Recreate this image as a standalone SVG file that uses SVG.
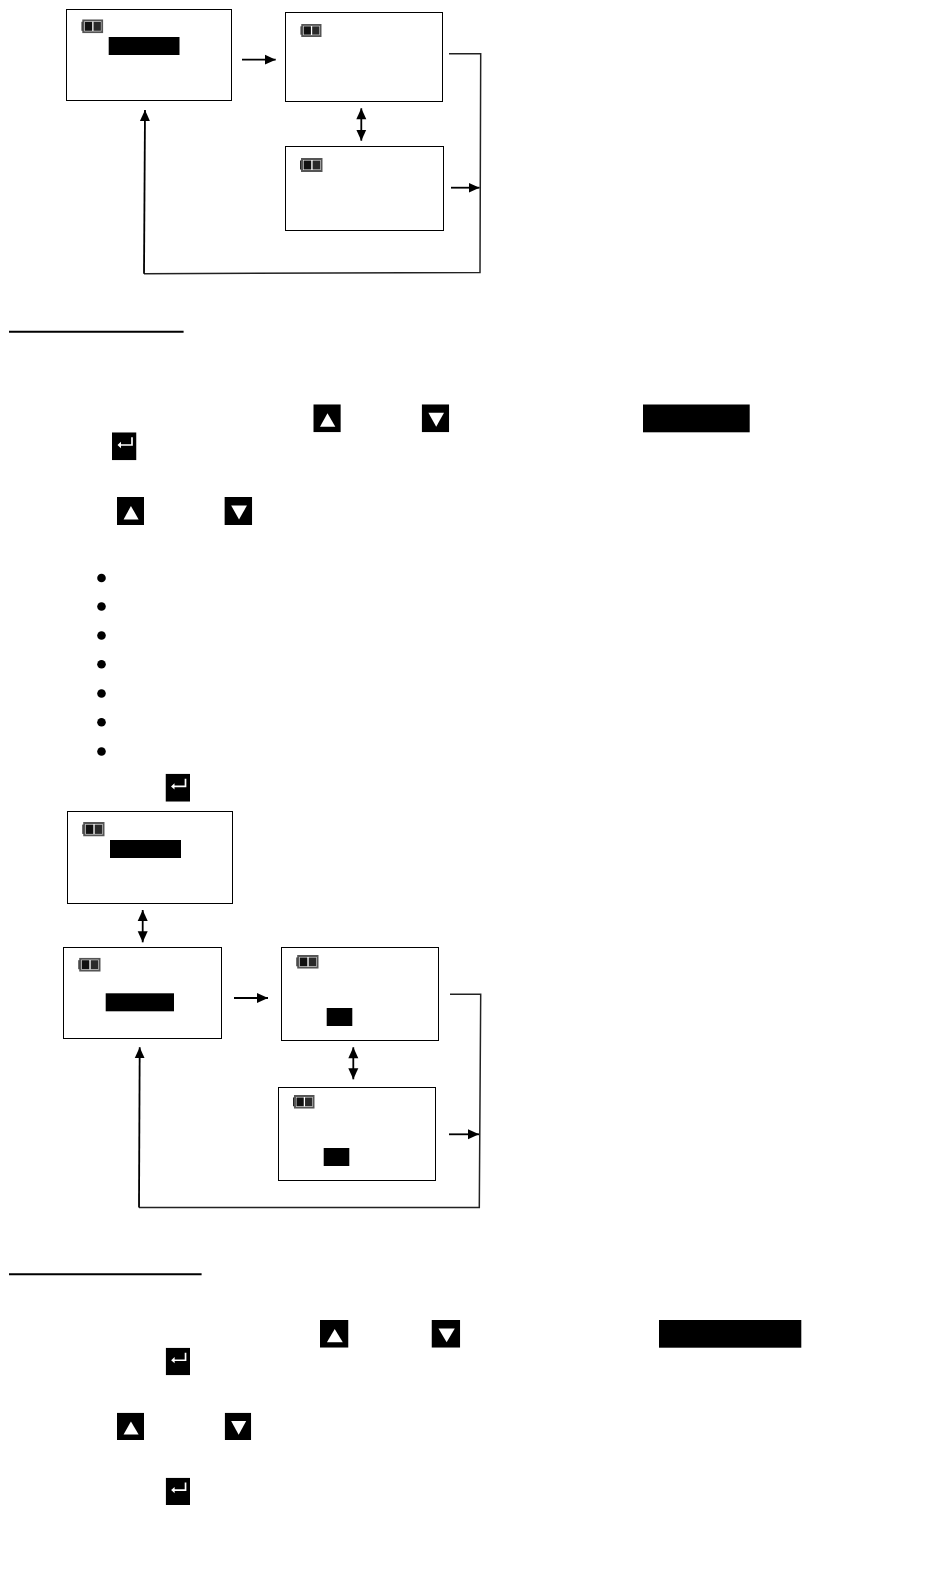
<svg xmlns="http://www.w3.org/2000/svg" xmlns:xlink="http://www.w3.org/1999/xlink" width="950" height="1590" viewBox="0 0 950 1590">
<style>
.screen{fill:#fff;stroke:#000;stroke-width:1}
.hl{fill:#000}
.rule{fill:none;stroke:#000;stroke-width:2}
.wire{fill:none;stroke:#222;stroke-width:1.5}
.arrow{fill:none;stroke:#000;stroke-width:1.8;marker-end:url(#ah)}
.both{fill:none;stroke:#000;stroke-width:1.8;marker-start:url(#ahs);marker-end:url(#ah)}
.bullet{fill:#000}
</style>
<defs>
<marker id="ah" markerUnits="userSpaceOnUse" markerWidth="12" markerHeight="11" refX="11" refY="5.5" orient="auto"><path d="M0,0.5L11,5.5L0,10.5Z" fill="#000"/></marker>
<marker id="ahs" markerUnits="userSpaceOnUse" markerWidth="12" markerHeight="11" refX="0" refY="5.5" orient="auto"><path d="M11,0.5L0,5.5L11,10.5Z" fill="#000"/></marker>
<symbol id="battery" viewBox="0 0 22 14" preserveAspectRatio="none">
<rect x="0" y="2.5" width="3" height="9" fill="#222"/>
<rect x="2" y="1" width="19" height="12" fill="#fff" stroke="#555" stroke-width="2"/>
<rect x="3.5" y="2.5" width="7.4" height="9" fill="#111"/>
<rect x="12.2" y="2.5" width="7.4" height="9" fill="#2a2a2a"/>
</symbol>
<symbol id="keyup" viewBox="0 0 27.5 28" preserveAspectRatio="none">
<rect width="27.5" height="28" fill="#000"/>
<path d="M14.2,9L22,22.4H6.7Z" fill="#fff"/>
</symbol>
<symbol id="keydown" viewBox="0 0 27.5 28" preserveAspectRatio="none">
<rect width="27.5" height="28" fill="#000"/>
<path d="M6.7,8.5H22.3L14.5,22.5Z" fill="#fff"/>
</symbol>
<symbol id="keyenter" viewBox="0 0 24.5 28" preserveAspectRatio="none">
<rect width="24.5" height="28" fill="#000"/>
<path d="M20,5V12.7H8" fill="none" stroke="#fff" stroke-width="1.7"/>
<path d="M5.5,12.7L9,9.5V15.9Z" fill="#fff"/>
</symbol>
</defs>
<rect width="950" height="1590" fill="#fff"/>

<g id="connectors">
<path class="arrow" d="M242,59.7H275.7"/>
<path class="both" d="M361.3,108.3V140.7"/>
<path class="wire" d="M449,53.7H480.7L480,272.5L144,273.7"/>
<path class="arrow" d="M144,273.7L145,110"/>
<path class="arrow" d="M451,187.7H479.5"/>
<path class="both" d="M142.7,910V942.3"/>
<path class="arrow" d="M234,998H268"/>
<path class="both" d="M353.3,1047.3V1079.3"/>
<path class="wire" d="M450,994.3H480.7L479.3,1207.5H139"/>
<path class="arrow" d="M139,1207.5L139.7,1047.3"/>
<path class="arrow" d="M449,1134.3H479"/>
</g>

<g id="screen-1"><rect class="screen" x="66.5" y="9.5" width="165" height="91"/><use xlink:href="#battery" x="81.3" y="19.3" width="22" height="14"/><rect class="hl" x="108.7" y="37" width="70.8" height="18"/></g>
<g id="screen-2"><rect class="screen" x="285.5" y="12.5" width="157" height="89"/><use xlink:href="#battery" x="300.3" y="24" width="21.4" height="13"/></g>
<g id="screen-3"><rect class="screen" x="285.5" y="146.5" width="158" height="84"/><use xlink:href="#battery" x="300" y="158" width="22.7" height="14"/></g>

<g id="section-1">
<path class="rule" d="M9,331.7H183.6"/>
<use xlink:href="#keyup" x="313.3" y="404.3" width="27.5" height="28"/>
<use xlink:href="#keydown" x="421.7" y="404.3" width="27.5" height="28"/>
<rect class="hl" x="643" y="404.5" width="106.7" height="27.8"/>
<use xlink:href="#keyenter" x="112" y="432.3" width="24.5" height="28"/>
<use xlink:href="#keyup" x="117" y="497" width="27" height="28"/>
<use xlink:href="#keydown" x="224.4" y="497" width="27.8" height="28"/>
<circle class="bullet" cx="101.5" cy="578" r="4.3"/>
<circle class="bullet" cx="101.5" cy="606.5" r="4.3"/>
<circle class="bullet" cx="101.5" cy="635.5" r="4.3"/>
<circle class="bullet" cx="101.5" cy="664.3" r="4.3"/>
<circle class="bullet" cx="101.5" cy="693.5" r="4.3"/>
<circle class="bullet" cx="101.5" cy="722.3" r="4.3"/>
<circle class="bullet" cx="101.5" cy="751.5" r="4.3"/>
<use xlink:href="#keyenter" x="165.5" y="773.7" width="24.5" height="28"/>
</g>

<g id="screen-4"><rect class="screen" x="67.5" y="811.5" width="165" height="92"/><use xlink:href="#battery" x="82.2" y="822" width="22.5" height="14.5"/><rect class="hl" x="110" y="840" width="71" height="18"/></g>
<g id="screen-5"><rect class="screen" x="63.5" y="947.5" width="158" height="91"/><use xlink:href="#battery" x="78.2" y="957.7" width="22.5" height="14"/><rect class="hl" x="105.7" y="993.3" width="68.3" height="18"/></g>
<g id="screen-6"><rect class="screen" x="281.5" y="947.5" width="157" height="93"/><use xlink:href="#battery" x="296.2" y="955" width="22.5" height="13.7"/><rect class="hl" x="326.7" y="1008" width="25.6" height="18"/></g>
<g id="screen-7"><rect class="screen" x="278.5" y="1087.5" width="157" height="93"/><use xlink:href="#battery" x="293" y="1095" width="21.7" height="13.7"/><rect class="hl" x="323.7" y="1148" width="25.6" height="18"/></g>

<g id="section-2">
<path class="rule" d="M9,1274.3H201.6"/>
<use xlink:href="#keyup" x="320" y="1320" width="28.5" height="27.7"/>
<use xlink:href="#keydown" x="431.5" y="1320" width="28.7" height="27.7"/>
<rect class="hl" x="659" y="1320" width="142.3" height="27.7"/>
<use xlink:href="#keyenter" x="165.7" y="1347.7" width="24.3" height="27.6"/>
<use xlink:href="#keyup" x="117" y="1412.7" width="27" height="27.3"/>
<use xlink:href="#keydown" x="224.7" y="1412.7" width="26.5" height="27.3"/>
<use xlink:href="#keyenter" x="165.7" y="1477.7" width="24.3" height="27.3"/>
</g>
</svg>
